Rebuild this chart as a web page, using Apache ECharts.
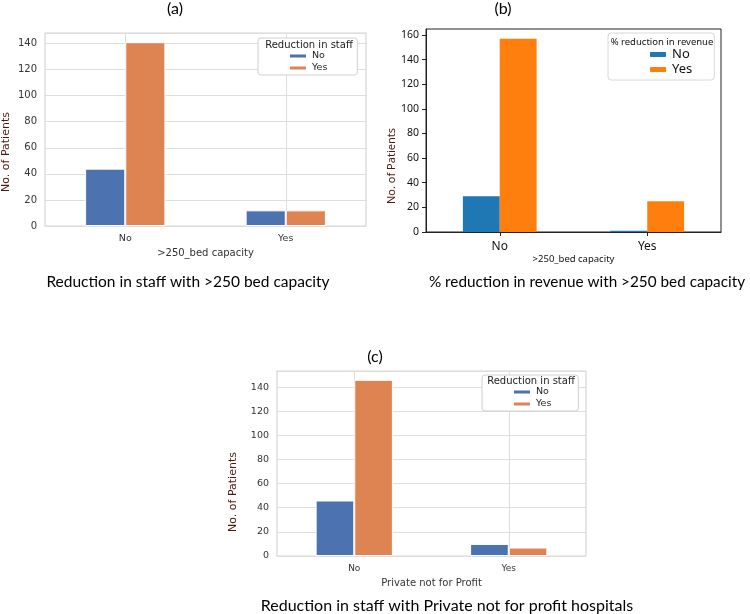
<!DOCTYPE html>
<html>
<head>
<meta charset="utf-8">
<script src="https://cdn.jsdelivr.net/npm/echarts@6/dist/echarts.min.js"></script>
<style>
  html, body { margin: 0; padding: 0; background: #fff; }
  #main { width: 750px; height: 614px; }
</style>
</head>
<body>
<div id="main"></div>
<script>
// categories on every x axis
var categories = ['No', 'Yes'];

// (a) Reduction in staff vs >250 bed capacity
var staffBedNo = [44, 12];
var staffBedYes = [141, 12];

// (b) % reduction in revenue vs >250 bed capacity
var revenueBedNo = [29, 1];
var revenueBedYes = [157, 25];

// (c) Reduction in staff vs Private not for profit
var staffPnfpNo = [46, 10];
var staffPnfpYes = [146, 7];

// pandas / matplotlib keeps 5% head room above the tallest bar
function topOf(a, b) {
  return Math.max.apply(null, a.concat(b)) * 1.05;
}

var seabornBlue = '#4c72b0', seabornOrange = '#dd8452';
var mplBlue = '#1f77b4', mplOrange = '#ff7f0e';
var nameColor = '#4d1a12';
var sansFont = 'DejaVu Sans';
var captionFont = 'Lato';

var myChart = echarts.init(document.getElementById('main'));

function seabornX(gridIndex, label, fontSize) {
  return {
    type: 'category', gridIndex: gridIndex, data: categories,
    axisLine: { show: false },
    axisTick: { show: false },
    axisLabel: { color: '#333', fontFamily: sansFont, fontSize: fontSize, margin: 8 },
    splitLine: { show: true, alignWithLabel: true, lineStyle: { color: '#dedede', width: 1 } },
    name: label, nameLocation: 'middle', nameGap: 22,
    nameTextStyle: { color: '#333', fontFamily: sansFont, fontSize: 10 }
  };
}

function seabornY(gridIndex, max, fontSize) {
  return {
    type: 'value', gridIndex: gridIndex, min: 0, max: max, interval: 20,
    axisLine: { show: false },
    axisTick: { show: false },
    axisLabel: { color: '#333', fontFamily: sansFont, fontSize: fontSize, margin: 8, showMaxLabel: false },
    splitLine: { show: true, lineStyle: { color: '#dedede', width: 1 } }
  };
}

function legendFor(gridLegend, colors, fontSize, iconH) {
  return Object.assign({
    orient: 'vertical',
    itemWidth: 18, itemHeight: iconH, itemGap: 2,
    borderColor: '#d0d0d0', borderWidth: 1, borderRadius: 3,
    backgroundColor: '#fff',
    textStyle: { color: '#222', fontFamily: sansFont, fontSize: fontSize },
    data: [
      { name: 'No', itemStyle: { color: colors[0] } },
      { name: 'Yes', itemStyle: { color: colors[1] } }
    ]
  }, gridLegend);
}

function textAt(x, y, text, font, color, rotation) {
  return {
    type: 'text', x: x, y: y, rotation: rotation || 0, z: 100,
    style: {
      text: text, font: font, fill: color || '#000',
      align: 'center', verticalAlign: 'middle',
      textAlign: 'center', textVerticalAlign: 'middle'
    }
  };
}

var option = {
  animation: false,
  grid: [
    { left: 45, top: 33, width: 321, height: 193, show: true, borderColor: '#d6d6d6', borderWidth: 1.2, backgroundColor: '#fff' },
    { left: 426, top: 29, width: 295, height: 203, show: true, borderColor: '#222', borderWidth: 1, backgroundColor: '#fff' },
    { left: 277, top: 371, width: 309, height: 185, show: true, borderColor: '#d6d6d6', borderWidth: 1.2, backgroundColor: '#fff' }
  ],
  xAxis: [
    seabornX(0, '>250_bed capacity', 9.5),
    {
      type: 'category', gridIndex: 1, data: categories,
      axisLine: { show: true, lineStyle: { color: '#222' } },
      axisTick: { show: true, alignWithLabel: true, length: 4, inside: false, lineStyle: { color: '#222' } },
      axisLabel: { color: '#111', fontFamily: 'Noto Sans', fontSize: 12, margin: 9 },
      splitLine: { show: false },
      name: '>250_bed capacity', nameLocation: 'middle', nameGap: 21,
      nameTextStyle: { color: '#111', fontFamily: 'Noto Sans', fontSize: 9.5 }
    },
    seabornX(2, 'Private not for Profit', 9)
  ],
  yAxis: [
    seabornY(0, topOf(staffBedNo, staffBedYes), 10),
    {
      type: 'value', gridIndex: 1, min: 0, max: topOf(revenueBedNo, revenueBedYes), interval: 20,
      axisLine: { show: true, lineStyle: { color: '#222' } },
      axisTick: { show: true, length: 4, lineStyle: { color: '#222' } },
      axisLabel: { color: '#111', fontFamily: 'Noto Sans', fontSize: 10.5, margin: 7, showMaxLabel: false },
      splitLine: { show: false }
    },
    seabornY(2, topOf(staffPnfpNo, staffPnfpYes), 9.5)
  ],
  legend: [
    legendFor({ left: 258, top: 38, padding: [13, 30, 2, 30] }, [seabornBlue, seabornOrange], 9.5, 5),
    legendFor({ left: 608, top: 33, padding: [15, 22, 4, 40], borderColor: '#d8d8d8',
      textStyle: { color: '#111', fontFamily: 'Noto Sans', fontSize: 13 } }, [mplBlue, mplOrange], 13, 7),
    legendFor({ left: 482, top: 375, padding: [12, 27, 2, 30] }, [seabornBlue, seabornOrange], 9.5, 5)
  ],
  series: [
    { name: 'No', type: 'bar', xAxisIndex: 0, yAxisIndex: 0, data: staffBedNo, barGap: '0%', barCategoryGap: '50%',
      itemStyle: { color: seabornBlue, borderColor: '#fff', borderWidth: 1 } },
    { name: 'Yes', type: 'bar', xAxisIndex: 0, yAxisIndex: 0, data: staffBedYes, barGap: '0%', barCategoryGap: '50%',
      itemStyle: { color: seabornOrange, borderColor: '#fff', borderWidth: 1 } },
    { name: 'No', type: 'bar', xAxisIndex: 1, yAxisIndex: 1, data: revenueBedNo, barGap: '0%', barCategoryGap: '50%',
      itemStyle: { color: mplBlue } },
    { name: 'Yes', type: 'bar', xAxisIndex: 1, yAxisIndex: 1, data: revenueBedYes, barGap: '0%', barCategoryGap: '50%',
      itemStyle: { color: mplOrange } },
    { name: 'No', type: 'bar', xAxisIndex: 2, yAxisIndex: 2, data: staffPnfpNo, barGap: '0%', barCategoryGap: '50%',
      itemStyle: { color: seabornBlue, borderColor: '#fff', borderWidth: 1 } },
    { name: 'Yes', type: 'bar', xAxisIndex: 2, yAxisIndex: 2, data: staffPnfpYes, barGap: '0%', barCategoryGap: '50%',
      itemStyle: { color: seabornOrange, borderColor: '#fff', borderWidth: 1 } }
  ],
  graphic: [
    // panel letters
    textAt(175, 9, '(a)', '16px ' + captionFont, '#000'),
    textAt(503, 9, '(b)', '16px ' + captionFont, '#000'),
    textAt(375, 357, '(c)', '16px ' + captionFont, '#000'),
    // captions
    textAt(188, 282, 'Reduction in staff with >250 bed capacity', '15.5px ' + captionFont, '#000'),
    textAt(587, 282, '% reduction in revenue with >250 bed capacity', '15.3px ' + captionFont, '#000'),
    textAt(447, 606, 'Reduction in staff with Private not for profit hospitals', '16px ' + captionFont, '#000'),
    // y axis names
    textAt(6, 152, 'No. of Patients', '11px ' + sansFont, nameColor, Math.PI / 2),
    textAt(392, 166, 'No. of Patients', '11px Noto Sans', nameColor, Math.PI / 2),
    textAt(233, 492, 'No. of Patients', '11px ' + sansFont, nameColor, Math.PI / 2),
    // legend titles
    textAt(309, 45, 'Reduction in staff', '10px ' + sansFont, '#222'),
    textAt(662, 42, '% reduction in revenue', '9.5px Noto Sans', '#111'),
    textAt(531, 381, 'Reduction in staff', '10px ' + sansFont, '#222')
  ]
};

myChart.setOption(option);
</script>
</body>
</html>
